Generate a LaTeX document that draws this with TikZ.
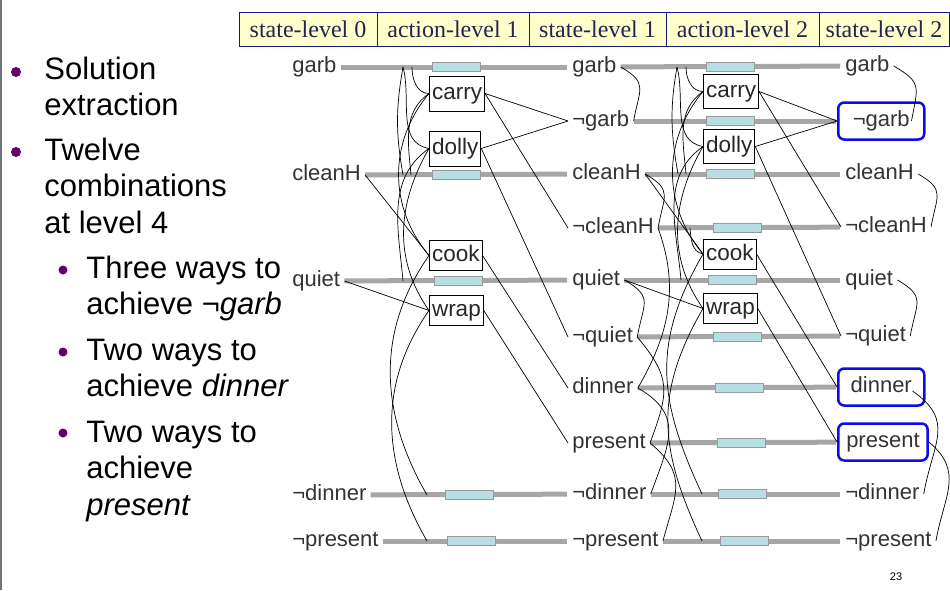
\documentclass[tikz,border=0pt]{standalone}
\usepackage{fontspec}
\setmainfont{Liberation Sans}
\newfontfamily\headfont{Liberation Serif}
\definecolor{headfill}{RGB}{255,255,204}
\definecolor{headline}{RGB}{24,24,140}
\definecolor{headtext}{RGB}{36,36,80}
\definecolor{noopfill}{RGB}{183,222,226}
\definecolor{dotcol}{RGB}{102,0,102}
\definecolor{goalblue}{RGB}{12,12,235}
\begin{document}
\begin{tikzpicture}[x=1pt, y=1pt, line width=0.7pt]
	\tikzstyle{cell}     = [draw=headline, fill=headfill, line width=1pt, minimum height=34pt, inner sep=0pt, font=\headfont\fontsize{24}{24}\selectfont, text=headtext]
	\tikzstyle{bulltext} = [anchor=base west, align=left, inner sep=0pt, font=\fontsize{31}{36.5}\selectfont]
	\tikzstyle{fluent}   = [anchor=west, inner sep=4pt, text height=16pt, text depth=5pt, font=\fontsize{22}{22}\selectfont, text=black!80]
	\tikzstyle{act}      = [anchor=west, draw, fill=white, line width=1pt, inner xsep=2.5pt, inner ysep=2pt, text height=17pt, text depth=5pt, font=\fontsize{22.5}{22.5}\selectfont, text=black!85]
	\tikzstyle{goal}     = [draw=goalblue, line width=2.5pt, rounded corners=6pt, inner xsep=8pt, xshift=-4pt, minimum width=86pt, minimum height=37pt]
	\tikzstyle{noop}     = [draw=black!40, fill=noopfill, line width=0.8pt, minimum width=48pt, minimum height=9pt, inner sep=0pt]
	\tikzstyle{persist}  = [line width=5pt, draw=black!35, shorten >=1pt]
	\tikzstyle{mutex}    = [line width=0.7pt]

	\useasboundingbox (0,0) rectangle (950,-590);
	\draw[black!55, line width=1.5pt] (1,0) -- (1,-590);

	% level headers
	\foreach \name/\lbl/\x/\w in {sl0/state-level 0/308/138, al1/action-level 1/453/152, sl1/state-level 1/597.5/137, al2/action-level 2/742.5/153, sl2/state-level 2/884/130}
		\node[cell, minimum width=\w pt] (\name) at (\x,-29.5) {\lbl};

	% bullets (base = last line)
	\foreach \x/\y/\rad in {16/72/5, 16/152/5, 63/270/4.5, 63/352/4.5, 63/433/4.5}
		\fill[dotcol] (\x,-\y) circle (\rad);
	\node[bulltext] (solution) at (44,-115.5) {Solution\\extraction};
	\node[bulltext] (twelve)   at (44,-233)   {Twelve\\combinations\\at level 4};
	\node[bulltext] (threeway) at (86,-314.5) {Three ways to\\achieve ¬\textit{garb}};
	\node[bulltext] (twodin)   at (86,-396.5) {Two ways to\\achieve \textit{dinner}};
	\node[bulltext] (twopres)  at (86,-515)   {Two ways to\\achieve\\\textit{present}};
	\fill[white] (292,-50) rectangle (950,-565);

	% state levels
	\foreach \name/\lbl/\y in {garb0/garb/67, cleanH0/cleanH/175, quiet0/quiet/281, ndinner0/¬dinner/495, npresent0/¬present/541}
		\node[fluent] (\name) at (288,-\y) {\lbl};
	\foreach \name/\lbl/\y in {garb1/garb/67, ngarb1/¬garb/121, cleanH1/cleanH/174, ncleanH1/¬cleanH/228, quiet1/quiet/280, nquiet1/¬quiet/337, dinner1/dinner/388, present1/present/443, ndinner1/¬dinner/494, npresent1/¬present/541}
		\node[fluent] (\name) at (568,-\y) {\lbl};
	\foreach \name/\lbl/\y in {garb2/garb/66, cleanH2/cleanH/174, ncleanH2/¬cleanH/227, quiet2/quiet/280, nquiet2/¬quiet/336, ndinner2/¬dinner/494, npresent2/¬present/541}
		\node[fluent] (\name) at (841,-\y) {\lbl};
	\node[fluent, goal] (ngarb2)   at (841,-121) {¬garb};
	\node[fluent, goal] (dinner2)  at (841,-387) {dinner};
	\node[fluent, goal] (present2) at (841,-442) {present};

	% action levels
	\foreach \name/\lbl/\x/\y/\h in {carry1/carry/429/93.5/35, dolly1/dolly/429/148.5/35, cook1/cook/429/255.5/30, wrap1/wrap/429/310.5/30, carry2/carry/703/91.5/34, dolly2/dolly/703/146.5/34, cook2/cook/703/254/30, wrap2/wrap/703/308.5/30}
		\node[act, minimum height=\h pt] (\name) at (\x,-\y) {\lbl};

	% maintenance actions
	\foreach \from/\to/\p in {garb0/garb1/.51, cleanH0/cleanH1/.45, quiet0/quiet1/.51, ndinner0/ndinner1/.5, npresent0/npresent1/.48, garb1/garb2/.5, ngarb1/ngarb2/.475, cleanH1/cleanH2/.435, ncleanH1/ncleanH2/.434, quiet1/quiet2/.5, nquiet1/nquiet2/.49, dinner1/dinner2/.51, present1/present2/.49, ndinner1/ndinner2/.48, npresent1/npresent2/.46}
		\draw[persist] (\from) -- node[noop, pos=\p] {} (\to);

	% preconditions and effects
	\foreach \from/\to in {cleanH0/cook1, quiet0/wrap1, carry1/ngarb1, carry1/ncleanH1, dolly1/ngarb1, dolly1/nquiet1, cook1/dinner1, wrap1/present1, cleanH1/cook2, quiet1/wrap2, carry2/ngarb2, carry2/ncleanH2, dolly2/ngarb2, dolly2/nquiet2, cook2/dinner2, wrap2/present2}
		\draw (\from.east) -- (\to.west);

	% mutex links
	\foreach \name/\x/\y in {g0a/403/67, g0b/412/67, c0a/403/175, c0b/411/175, q0a/403/281, d0a/427/495, p0a/427/541, g1a/677/67, g1b/686/67, c1a/678/174, c1b/686/174, nc1a/690/228, q1a/681/280, d1a/702/494, p1a/702/541}
		\coordinate (\name) at (\x,-\y);
	\coordinate (ng2b) at ([xshift=-14pt]ngarb2.east);
	\coordinate (dn2b) at ([xshift=-13pt, yshift=-4pt]dinner2.east);
	\foreach \from/\to/\o/\i/\l in {g0b/carry1.west/270/180/1, g0a/c0a/260/100/1, g0a/dolly1.west/285/170/1, carry1.west/c0b/215/95/1, carry1.west/cook1.west/230/130/1, dolly1.west/q0a/215/95/1, dolly1.west/wrap1.west/240/125/1, cook1.west/d0a/235/120/1, wrap1.west/p0a/235/120/1,
			g1b/carry2.west/270/180/1, g1a/c1a/260/100/1, g1a/dolly2.west/285/170/1, carry2.west/c1b/215/95/1, carry2.west/cook2.west/230/130/1, dolly2.west/q1a/215/95/1, dolly2.west/wrap2.west/240/125/1, cook2.west/d1a/240/115/1.1, wrap2.west/p1a/240/115/1.1, nc1a/cook2.west/275/170/1,
			garb1.east/ngarb1.east/-30/80/1.5, cleanH1.east/ncleanH1.east/-30/80/1.5, ncleanH1.east/dinner1.east/-70/60/1, quiet1.east/nquiet1.east/-30/80/1.5, nquiet1.east/present1.east/-50/70/1.3, dinner1.east/ndinner1.east/-30/70/1.3, present1.east/npresent1.east/-40/75/1.3,
			garb2.east/ng2b/-30/80/1.5, cleanH2.east/ncleanH2.east/-30/80/1.5, quiet2.east/nquiet2.east/-30/80/1.5, dn2b/ndinner2.east/-35/80/1.3, present2.east/npresent2.east/-40/80/1.2}
		\draw[mutex] (\from) to[out=\o, in=\i, looseness=\l] (\to);

	\node[font=\fontsize{11}{11}\selectfont] (page) at (896,-577) {23};
\end{tikzpicture}
\end{document}
